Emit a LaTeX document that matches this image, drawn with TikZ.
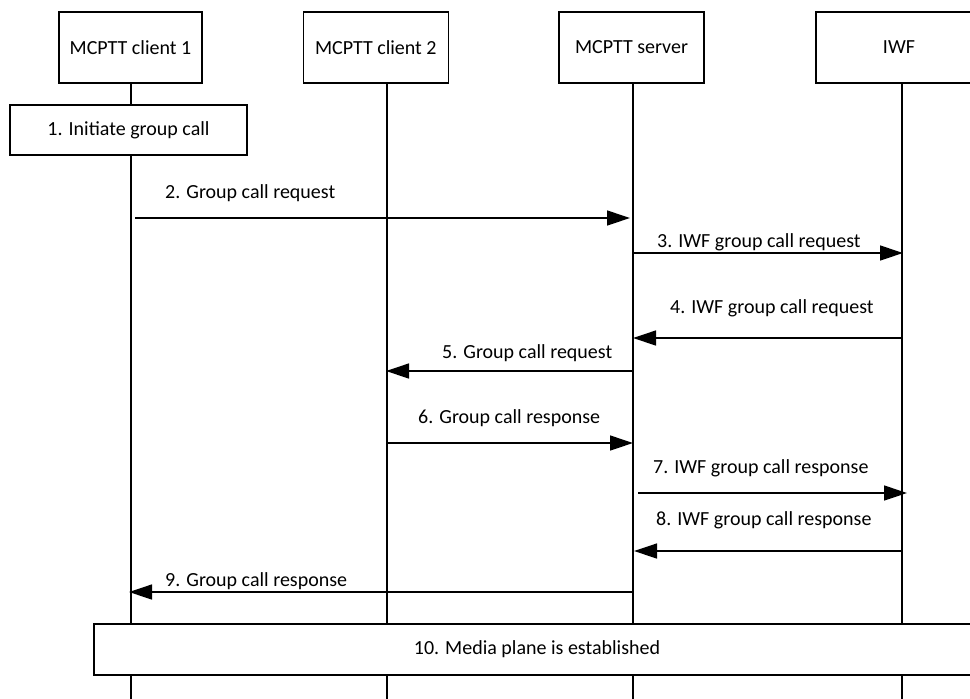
\documentclass[tikz,border=0pt]{standalone}
\usepackage{fontspec}
\setmainfont{Carlito}
\usetikzlibrary{arrows.meta}
\begin{document}
\begin{tikzpicture}[x=1pt,y=-1pt,
  txt/.style={font=\fontsize{20}{24}\selectfont, inner sep=0pt},
  actor/.style={txt, draw, line width=1.3pt, fill=white, minimum height=71pt},
  stepbox/.style={txt, draw, line width=1.3pt, fill=white},
  life/.style={line width=1.3pt},
  msg/.style={line width=1.3pt, -{Triangle[length=23pt,width=15pt]}},
  lbl/.style={txt, anchor=base west}]
\useasboundingbox (0,0) rectangle (970,699);
\clip (0,0) rectangle (970,699);
% header boxes
\node[actor, minimum width=143pt] (c1) at (130.5,47.5) {MCPTT client 1};
\node[actor, minimum width=145pt] (c2) at (375.8,47.5) {MCPTT client 2};
\node[actor, minimum width=145pt] (srv) at (631.5,47.5) {MCPTT server};
\node[actor, minimum width=166pt] (iwf) at (899,47.5) {IWF};
% lifelines
\coordinate (t1) at (131,83);   \coordinate (b1) at (131,699);
\coordinate (t2) at (387,83);   \coordinate (b2) at (387,699);
\coordinate (t3) at (633,83);   \coordinate (b3) at (633,699);
\coordinate (t4) at (902,83);   \coordinate (b4) at (902,699);
\draw[life] (t1) -- (b1);
\draw[life] (t2) -- (b2);
\draw[life] (t3) -- (b3);
\draw[life] (t4) -- (b4);
% step 1
\node[stepbox, minimum width=237pt, minimum height=50pt] (s1) at (128.5,130) {1. Initiate group call};
% messages
\coordinate (m2a) at (135,218); \coordinate (m2b) at (630,218);
\draw[msg] (m2a) -- (m2b);
\node[lbl] (l2) at (165,198) {2. Group call request};
\coordinate (m3a) at (633,253); \coordinate (m3b) at (903,253);
\draw[msg] (m3a) -- (m3b);
\node[lbl] (l3) at (657,247) {3. IWF group call request};
\coordinate (m4a) at (902,338); \coordinate (m4b) at (633,338);
\draw[msg] (m4a) -- (m4b);
\node[lbl] (l4) at (670,313) {4. IWF group call request};
\coordinate (m5a) at (633,371); \coordinate (m5b) at (386,371);
\draw[msg] (m5a) -- (m5b);
\node[lbl] (l5) at (442,358) {5. Group call request};
\coordinate (m6a) at (387,443); \coordinate (m6b) at (633,443);
\draw[msg] (m6a) -- (m6b);
\node[lbl] (l6) at (418,423) {6. Group call response};
\coordinate (m7a) at (638,493); \coordinate (m7b) at (907,493);
\draw[msg] (m7a) -- (m7b);
\node[lbl] (l7) at (653,473) {7. IWF group call response};
\coordinate (m8a) at (902,551); \coordinate (m8b) at (634,551);
\draw[msg] (m8a) -- (m8b);
\node[lbl] (l8) at (656,525) {8. IWF group call response};
\coordinate (m9a) at (633,592); \coordinate (m9b) at (129,592);
\draw[msg] (m9a) -- (m9b);
\node[lbl] (l9) at (165,586) {9. Group call response};
% step 10
\node[stepbox, minimum width=886pt, minimum height=51pt] (s10) at (537,649.5) {10. Media plane is established};
\end{tikzpicture}
\end{document}
